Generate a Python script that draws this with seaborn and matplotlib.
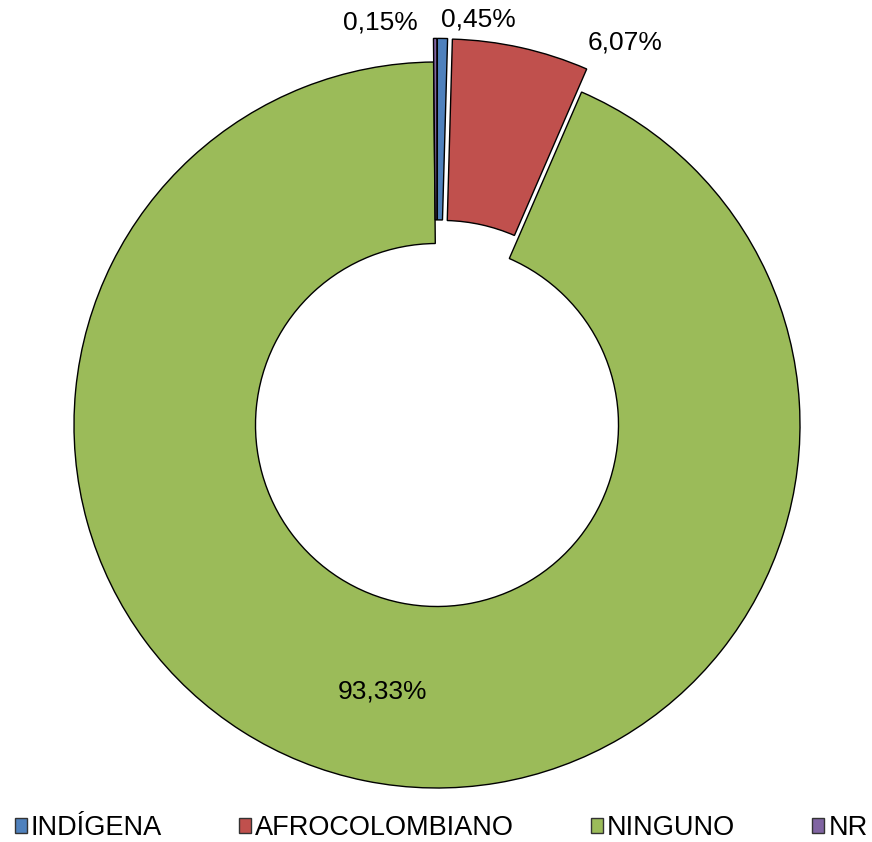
import numpy as np
import matplotlib
matplotlib.use('Agg')
import matplotlib.pyplot as plt
import seaborn as sns

# datos del gráfico
categorias = ['INDÍGENA', 'AFROCOLOMBIANO', 'NINGUNO', 'NR']
porcentajes = [0.45, 6.07, 93.33, 0.15]
colores = ['#4F81BD', '#C0504D', '#9BBB59', '#8064A2']
separacion = [0.065, 0.065, 0.0, 0.065]

sns.set_style('white')
plt.rcParams['font.family'] = ['Liberation Sans', 'DejaVu Sans']
plt.rcParams['text.color'] = 'black'

fig = plt.figure(figsize=(8.72, 8.42), dpi=100)
ax = fig.add_axes([0, 0, 1, 1])

wedges, _ = ax.pie(porcentajes, colors=colores, startangle=90, counterclock=False,
                   explode=separacion, radius=1.0,
                   wedgeprops=dict(width=0.5, edgecolor='black', linewidth=1.0))

# posiciones de las etiquetas (unidades del radio)
pos_etiquetas = [(0.113, 1.116), (0.518, 1.055), (-0.15, -0.735), (-0.157, 1.11)]
for v, (x, y) in zip(porcentajes, pos_etiquetas):
    ax.text(x, y, f'{v:.2f}%'.replace('.', ','), ha='center', va='center',
            fontsize=19, color='black')

ax.set_xlim(-437 / 363, (872 - 437) / 363)
ax.set_ylim(-417 / 363, (842 - 417) / 363)
ax.set_aspect('auto')
ax.axis('off')

leg = ax.legend(wedges, categorias, loc='lower center', bbox_to_anchor=(0.506, -0.012),
                ncol=4, frameon=False, fontsize=19.5, handlelength=0.44, handleheight=0.44,
                handletextpad=0.15, columnspacing=2.85, borderaxespad=0, labelcolor='black')
for h in leg.legend_handles:
    h.set_linewidth(1.0)
    h.set_edgecolor('#333333')

fig.savefig('out.png', dpi=100)
